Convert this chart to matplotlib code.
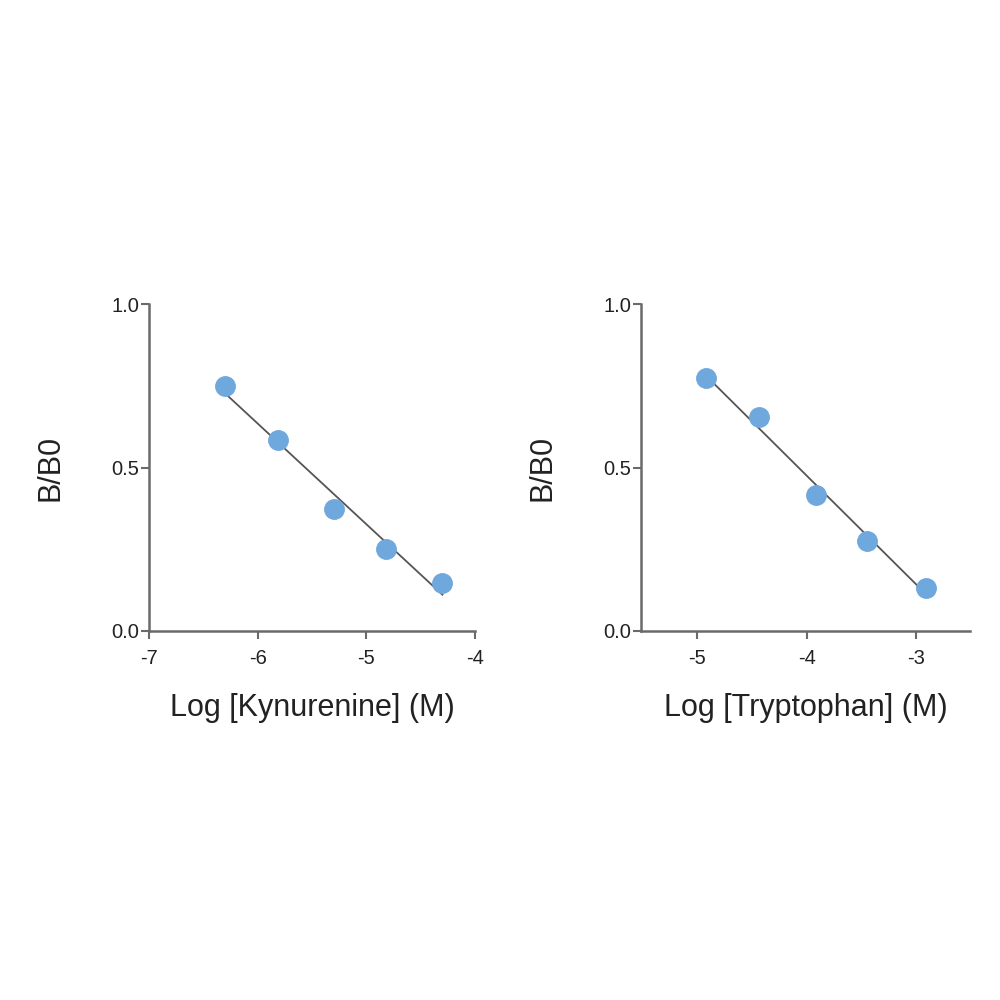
import numpy as np
import matplotlib.pyplot as plt

plt.rcParams['font.family'] = ['Liberation Sans', 'DejaVu Sans']

# Kynurenine standard curve
kyn_log_conc = [-6.30, -5.81, -5.30, -4.82, -4.30]
kyn_b_b0 = [0.749, 0.584, 0.373, 0.251, 0.147]

# Tryptophan standard curve
trp_log_conc = [-4.92, -4.43, -3.91, -3.45, -2.91]
trp_b_b0 = [0.774, 0.654, 0.416, 0.275, 0.131]

y_ticks = [0.0, 0.5, 1.0]
kyn_x_ticks = [-7, -6, -5, -4]
trp_x_ticks = [-5, -4, -3]

point_color = '#6fa8dc'
line_color = '#555555'
spine_color = '#6a6a6a'

fig = plt.figure(figsize=(10, 10), dpi=100)
ax1 = fig.add_axes([0.149, 0.369, 0.326, 0.327])
ax2 = fig.add_axes([0.641, 0.369, 0.329, 0.327])


def draw_panel(ax, x, y, xlim, xticks, xlabel):
    x = np.array(x)
    y = np.array(y)
    slope, intercept = np.polyfit(x, y, 1)
    xs = np.array([x.min(), x.max()])
    ax.plot(xs, slope * xs + intercept, color=line_color, lw=1.3, zorder=2)
    ax.plot(x, y, 'o', color=point_color, markersize=14, zorder=3)
    ax.set_xlim(*xlim)
    ax.set_ylim(0, 1.0)
    ax.set_xticks(xticks)
    ax.set_xticklabels([f'{t:d}' for t in xticks])
    ax.set_yticks(y_ticks)
    ax.set_yticklabels([f'{t:.1f}' for t in y_ticks])
    for side in ['top', 'right']:
        ax.spines[side].set_visible(False)
    for side in ['left', 'bottom']:
        ax.spines[side].set_color(spine_color)
        ax.spines[side].set_linewidth(1.8)
    ax.tick_params(axis='both', direction='out', length=6, width=1.5,
                   color=spine_color, labelsize=14.5, labelcolor='#222222')
    ax.tick_params(axis='x', pad=7)
    ax.tick_params(axis='y', pad=1)
    ax.set_xlabel(xlabel, fontsize=22, color='#222222', labelpad=18)
    ax.set_ylabel('B/B0', fontsize=22, color='#222222', labelpad=33)


draw_panel(ax1, kyn_log_conc, kyn_b_b0, (-7, -4), kyn_x_ticks, 'Log [Kynurenine] (M)')
draw_panel(ax2, trp_log_conc, trp_b_b0, (-5.51, -2.51), trp_x_ticks, 'Log [Tryptophan] (M)')

fig.savefig('out.png', dpi=100, facecolor='white')
